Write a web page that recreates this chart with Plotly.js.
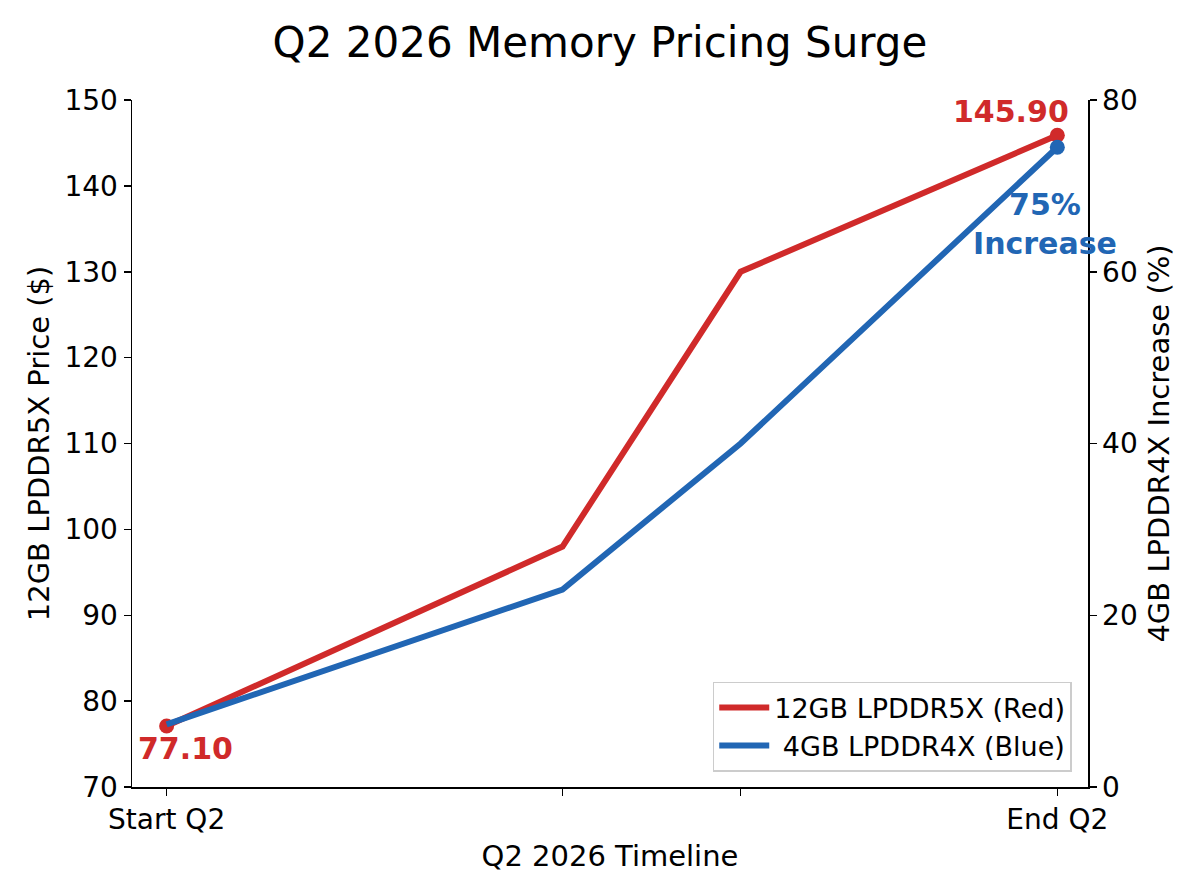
<!DOCTYPE html>
<html>
<head>
<meta charset="utf-8">
<script src="https://cdn.plot.ly/plotly-3.0.1.min.js"></script>
<style>html,body{margin:0;padding:0;background:#fff;}#chart{width:1200px;height:896px;}</style>
</head>
<body>
<div id="chart"></div>
<script>
// Timeline positions (days into Q2) and tick labels
const timelineDays = [0, 40, 58, 90];
const timelineLabels = ["Start Q2", "", "", "End Q2"];

// 12GB LPDDR5X price ($) – left axis
const lpddr5xPrice = [77.10, 98.0, 130.0, 145.90];
// 4GB LPDDR4X increase (%) – right axis
const lpddr4xIncrease = [7.3, 23.0, 40.0, 74.5];

const seriesNames = ["12GB LPDDR5X (Red)", "\u00A04GB LPDDR4X (Blue)"];

const RED = "#d02a2a";
const BLUE = "#2166b4";
const FONT = "DejaVu Sans, sans-serif";

const last = timelineDays.length - 1;

const traces = [
  {
    x: timelineDays, y: lpddr5xPrice, name: seriesNames[0],
    mode: "lines", line: {color: RED, width: 6}, yaxis: "y",
    hoverinfo: "skip"
  },
  {
    x: [timelineDays[0], timelineDays[last]], y: [lpddr5xPrice[0], lpddr5xPrice[last]],
    mode: "markers", marker: {color: RED, size: 15}, yaxis: "y",
    showlegend: false, hoverinfo: "skip"
  },
  {
    x: timelineDays, y: lpddr4xIncrease, name: seriesNames[1],
    mode: "lines", line: {color: BLUE, width: 6}, yaxis: "y2",
    hoverinfo: "skip"
  },
  {
    x: [timelineDays[last]], y: [lpddr4xIncrease[last]],
    mode: "markers", marker: {color: BLUE, size: 15}, yaxis: "y2",
    showlegend: false, hoverinfo: "skip"
  }
];

const layout = {
  width: 1200, height: 896,
  paper_bgcolor: "#fff", plot_bgcolor: "#fff",
  font: {family: FONT, size: 28, color: "#000"},
  margin: {l: 132, r: 112, t: 100, b: 109},
  title: {text: "Q2 2026 Memory Pricing Surge", font: {size: 42, family: FONT, color: "#000"},
          x: 0.5, xanchor: "center", y: 0.953, yanchor: "middle"},
  showlegend: true,
  legend: {
    x: 0.983, xanchor: "right", y: 0.022, yanchor: "bottom",
    bgcolor: "rgba(255,255,255,0.9)", bordercolor: "#cccccc", borderwidth: 1.5,
    itemwidth: 50,
    font: {size: 27, family: FONT, color: "#000"}
  },
  xaxis: {
    range: [-3.5, 93.1], tickmode: "array", tickvals: timelineDays, ticktext: timelineLabels,
    showgrid: false, zeroline: false, showline: true, linecolor: "#000", linewidth: 1.5,
    ticks: "outside", ticklen: 7, tickwidth: 1.5, tickcolor: "#000",
    tickfont: {size: 28},
    title: {text: "Q2 2026 Timeline", font: {size: 29}, standoff: 10},
    automargin: false, fixedrange: true
  },
  yaxis: {
    range: [70, 150], dtick: 10, tick0: 70,
    showgrid: false, zeroline: false, showline: true, linecolor: "#000", linewidth: 1.5,
    ticks: "outside", ticklen: 7, tickwidth: 1.5, tickcolor: "#000",
    tickfont: {size: 28},
    title: {text: "12GB LPDDR5X Price ($)", font: {size: 29}, standoff: 6},
    automargin: false, fixedrange: true
  },
  yaxis2: {
    range: [0, 80], dtick: 20, tick0: 0, overlaying: "y", side: "right",
    showgrid: false, zeroline: false, showline: true, linecolor: "#000", linewidth: 1.5,
    ticks: "outside", ticklen: 7, tickwidth: 1.5, tickcolor: "#000",
    tickfont: {size: 28},
    title: {text: "4GB LPDDR4X Increase (%)", font: {size: 29}, standoff: 12},
    automargin: false, fixedrange: true
  },
  annotations: [
    {
      xref: "x", yref: "y", x: timelineDays[last], y: lpddr5xPrice[last],
      text: "<b>" + lpddr5xPrice[last].toFixed(2) + "</b>", showarrow: false,
      xanchor: "center", yanchor: "bottom", xshift: -46, yshift: 4,
      font: {size: 30, color: RED, family: FONT}
    },
    {
      xref: "x", yref: "y", x: timelineDays[0], y: lpddr5xPrice[0],
      text: "<b>" + lpddr5xPrice[0].toFixed(2) + "</b>", showarrow: false,
      xanchor: "center", yanchor: "top", xshift: 19, yshift: -3,
      font: {size: 30, color: RED, family: FONT}
    },
    {
      xref: "x", yref: "y2", x: timelineDays[last], y: lpddr4xIncrease[last],
      text: "<b>75%<br>Increase</b>", showarrow: false, align: "center",
      xanchor: "center", yanchor: "top", xshift: -12, yshift: -38,
      font: {size: 30, color: BLUE, family: FONT, lineheight: 1.15}
    }
  ]
};

Plotly.newPlot("chart", traces, layout, {staticPlot: true, displayModeBar: false});
</script>
</body>
</html>
